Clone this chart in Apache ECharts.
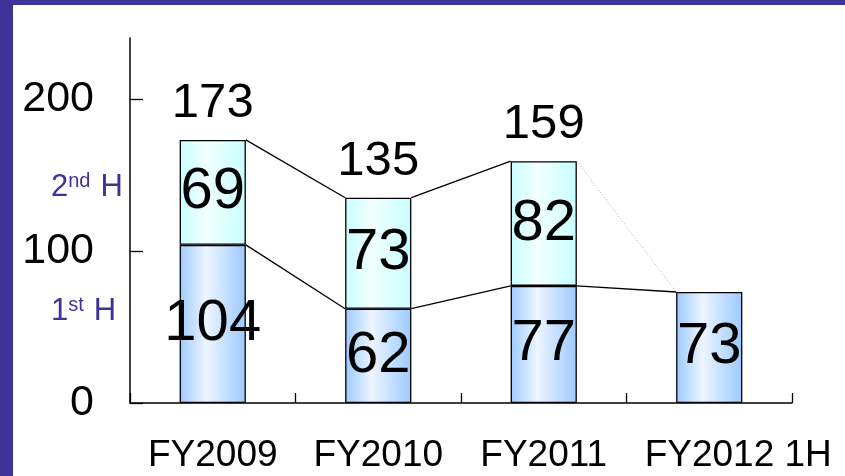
<!DOCTYPE html>
<html>
<head>
<meta charset="utf-8">
<script src="https://cdn.jsdelivr.net/npm/echarts@6/dist/echarts.min.js"></script>
<style>
    html, body {margin: 0; padding: 0; background: #fff;}
    #chart {width: 845px; height: 476px;}
</style>
</head>
<body>
<div id="chart"></div>
<script>
// данные
let categories = ['FY2009', 'FY2010', 'FY2011', 'FY2012 1H']
let firstHalf = [104, 62, 77, 73]
let secondHalf = [69, 73, 82, '-']
let totals = [173, 135, 159, '-']
let yTicks = [0, 100, 200]

let frameColor = '#3e3399'
let barWidthPct = 0.4

function hGradient(edge, mid) {
    return new echarts.graphic.LinearGradient(0, 0, 1, 0, [
        {offset: 0, color: edge},
        {offset: 0.4, color: mid},
        {offset: 1, color: edge},
    ])
}

/**
 * Линии между соседними столбиками: [i, низ(i), верх(i), низ(i+1), верх(i+1), пунктир]
 */
let links = []
for (let i = 0; i < categories.length - 1; i++) {
    let noSecond = totals[i + 1] === '-'
    links.push([i, firstHalf[i], totals[i], firstHalf[i + 1], noSecond ? firstHalf[i + 1] : totals[i + 1], noSecond ? 1 : 0])
}

function renderLink(params, api) {
    let i = api.value(0)
    let band = api.size([1, 0])[0]
    let half = band * barWidthPct / 2
    let a1 = api.coord([i, api.value(1)])
    let a2 = api.coord([i, api.value(2)])
    let b1 = api.coord([i + 1, api.value(3)])
    let b2 = api.coord([i + 1, api.value(4)])
    let dotted = api.value(5) === 1
    return {
        type: 'group',
        children: [
            {
                type: 'line',
                shape: {x1: a1[0] + half, y1: a1[1], x2: b1[0] - half, y2: b1[1]},
                style: {stroke: '#000', lineWidth: 1.3},
            },
            {
                type: 'line',
                shape: {x1: a2[0] + half, y1: a2[1], x2: b2[0] - half, y2: b2[1]},
                style: dotted
                    ? {stroke: '#b0b0b0', lineWidth: 1, lineDash: [1, 2]}
                    : {stroke: '#000', lineWidth: 1.3},
            },
        ],
    }
}

let numFont = '"Liberation Sans", Arial, sans-serif'

function halfLabel(top) {
    return {
        type: 'text', left: 51, top: top, z: 100,
        style: {
            text: '{b|' + (top < 250 ? '2' : '1') + '}{s|' + (top < 250 ? 'nd' : 'st') + '}{h|H}',
            rich: {
                b: {fontSize: 31, fill: frameColor, fontFamily: numFont, verticalAlign: 'bottom', lineHeight: 32},
                s: {fontSize: 20, fill: frameColor, fontFamily: numFont, verticalAlign: 'top', lineHeight: 32},
                h: {fontSize: 31, fill: frameColor, fontFamily: numFont, verticalAlign: 'bottom', lineHeight: 32,
                    padding: [0, 0, 0, 10]},
            },
        },
    }
}

let chartInst = echarts.init(document.getElementById('chart'))
chartInst.setOption({
    animation: false,
    textStyle: {fontFamily: numFont},
    grid: {left: 130, right: 53, top: 38, bottom: 73},
    xAxis: {
        type: 'category',
        data: categories,
        axisLine: {lineStyle: {color: '#000', width: 1.5}},
        axisTick: {show: true, inside: true, length: 10, interval: 0, lineStyle: {color: '#000', width: 1.3}},
        axisLabel: {
            color: '#000', fontSize: 37, margin: 34, interval: 0, fontFamily: numFont,
            // последняя подпись в оригинале сдвинута вправо
            formatter: (v, idx) => idx === categories.length - 1 ? '{r|' + v + '}' : v,
            rich: {r: {fontSize: 37, color: '#000', fontFamily: numFont, padding: [0, 0, 0, 58]}},
        },
    },
    yAxis: {
        type: 'value',
        min: 0,
        max: 240,
        interval: 100,
        splitLine: {show: false},
        axisLine: {show: true, lineStyle: {color: '#000', width: 1.5}},
        axisTick: {show: true, inside: true, length: 13, customValues: yTicks,
            lineStyle: {color: '#000', width: 1.3}},
        axisLabel: {color: '#000', fontSize: 43, margin: 36, customValues: yTicks, fontFamily: numFont},
    },
    graphic: [
        {type: 'rect', left: 0, top: 0, shape: {width: 845, height: 5}, style: {fill: frameColor}, z: 100},
        {type: 'rect', left: 0, top: 0, shape: {width: 13, height: 476}, style: {fill: frameColor}, z: 100},
        halfLabel(171),
        halfLabel(295),
    ],
    series: [
        {
            name: '1st H',
            type: 'bar',
            stack: 'fy',
            barWidth: '40%',
            data: firstHalf,
            itemStyle: {color: hGradient('#9ccaff', '#edf5ff'), borderColor: '#000', borderWidth: 1.3},
            label: {show: true, position: 'inside', fontSize: 58, color: '#000', fontFamily: numFont},
        },
        {
            name: '2nd H',
            type: 'bar',
            stack: 'fy',
            barWidth: '40%',
            data: secondHalf,
            itemStyle: {color: hGradient('#c8ffff', '#f2ffff'), borderColor: '#000', borderWidth: 1.3},
            label: {show: true, position: 'inside', fontSize: 58, color: '#000', fontFamily: numFont},
        },
        {
            name: 'Total',
            type: 'bar',
            barWidth: '40%',
            barGap: '-100%',
            z: 1,
            silent: true,
            data: totals,
            itemStyle: {color: 'rgba(0,0,0,0)'},
            label: {show: true, position: 'top', distance: 12, fontSize: 49, color: '#000', fontFamily: numFont},
        },
        {
            type: 'custom',
            renderItem: renderLink,
            data: links,
            encode: {x: 0, y: [1, 2, 3, 4]},
            z: 3,
            silent: true,
        },
    ],
})
</script>
</body>
</html>
